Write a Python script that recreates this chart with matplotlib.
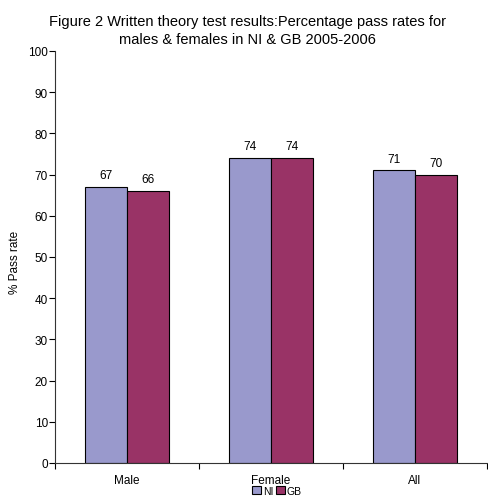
import matplotlib
matplotlib.use("Agg")
import matplotlib.pyplot as plt
import numpy as np

plt.rcParams['font.family'] = ['Liberation Sans', 'DejaVu Sans']

categories = ["Male", "Female", "All"]
series_names = ["NI", "GB"]
ni_values = [67, 74, 71]
gb_values = [66, 74, 70]
colors = ["#9999CC", "#993366"]

fig = plt.figure(figsize=(4.88, 5.02), dpi=100)
W, H = 488, 502
ax = fig.add_axes([55 / W, (H - 464) / H, (487 - 55) / W, (464 - 52) / H])

x = np.arange(len(categories))
bw = 0.29
b1 = ax.bar(x - bw / 2, ni_values, bw, color=colors[0], edgecolor="black", linewidth=0.8, label=series_names[0])
b2 = ax.bar(x + bw / 2, gb_values, bw, color=colors[1], edgecolor="black", linewidth=0.8, label=series_names[1])
for bars, vals in ((b1, ni_values), (b2, gb_values)):
    for r, v in zip(bars, vals):
        ax.text(r.get_x() + r.get_width() / 2, v + 1.4, f"{v}", ha="center", va="bottom", fontsize=8.5)

ax.set_xlim(-0.5, len(categories) - 0.5)
ax.set_ylim(0, 100)
ax.set_yticks(np.arange(0, 101, 10))
ax.set_xticks(x)
ax.set_xticklabels(categories, fontsize=8.5)
ax.tick_params(axis="x", length=0, pad=8)
ax.set_xticks(np.arange(-0.5, len(categories), 1), minor=True)
ax.tick_params(axis="x", which="minor", length=4, direction="out", width=0.8)
ax.tick_params(axis="y", length=4, direction="out", width=0.8, labelsize=8.5, pad=1)
ax.spines["top"].set_visible(False)
ax.spines["right"].set_visible(False)
ax.spines["left"].set_color("#333333")
ax.spines["bottom"].set_color("#333333")
ax.set_ylabel("% Pass rate", fontsize=8.5)
ax.yaxis.set_label_coords((21 - 55) / 432, 0.49)

fig.text(247 / W, 1 - 15 / H,
         "Figure 2 Written theory test results:Percentage pass rates for\nmales & females in NI & GB 2005-2006",
         ha="center", va="top", fontsize=10.5, linespacing=1.35)

fig.legend(handles=[b1, b2], labels=series_names, loc="center", bbox_to_anchor=(277 / W, 1 - 492 / H),
           ncol=2, frameon=False, fontsize=7.5, handlelength=0.8, handleheight=0.8,
           handletextpad=0.2, columnspacing=0.3, borderpad=0)

fig.savefig("out.png", dpi=100)
